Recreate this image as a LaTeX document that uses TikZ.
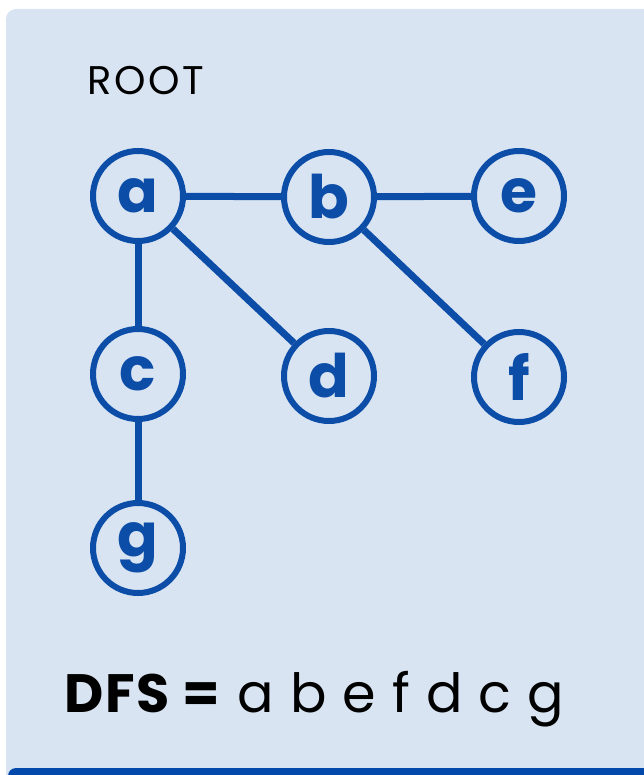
\documentclass[tikz,border=0pt]{standalone}
\usepackage{fontspec}
\setmainfont{Poppins}
\usetikzlibrary{automata}

\definecolor{panel}{HTML}{D9E4F2}
\definecolor{treeblue}{HTML}{0C4DA8}
\definecolor{barblue}{HTML}{0249AB}

\begin{document}
\begin{tikzpicture}[
            x = 1pt, y = -1pt, % pixel grid
            auto,
            treeedge/.style = {draw = treeblue, line width = 7pt} % edge style
        ]

        \tikzstyle{every state}=[
            draw = treeblue,
            line width = 6pt,
            fill = panel,
            text = treeblue,
            minimum size = 90pt,
            inner sep = 0pt,
            font = \fontsize{60}{60}\selectfont\bfseries
        ]

	\useasboundingbox (0,0) rectangle (644,775);
	\fill[panel, rounded corners = 10pt] (6,9) rectangle (680,800);
	\fill[barblue, rounded corners = 8pt] (8,768) rectangle (680,800);

	\node[anchor = base west, inner sep = 0pt,
	      font = \fontsize{40}{40}\selectfont\addfontfeature{LetterSpace=7}] (root) at (87,95) {ROOT};

	\node[state] (a) at (138,196) {a};
	\node[state] (b) at (329,197) {b};
	\node[state] (e) at (519,196) {e};
	\node[state] (c) at (138,374) {c};
	\node[state] (d) at (329,376) {d};
	\node[state] (f) at (519,377) {f};
	\node[state] (g) at (138,548) {g};

        \path[treeedge] (a) edge (b);
        \path[treeedge] (b) edge (e);
        \path[treeedge] (a) edge (c);
        \path[treeedge] (a) edge (d);
        \path[treeedge] (b) edge (f);
        \path[treeedge] (c) edge (g);

	\node[anchor = base west, inner sep = 0pt,
	      font = \fontsize{54}{54}\selectfont\addfontfeature{LetterSpace=3}] (dfs) at (64,712)
		{\textbf{DFS =} a b e f d c g};

    \end{tikzpicture}
\end{document}
